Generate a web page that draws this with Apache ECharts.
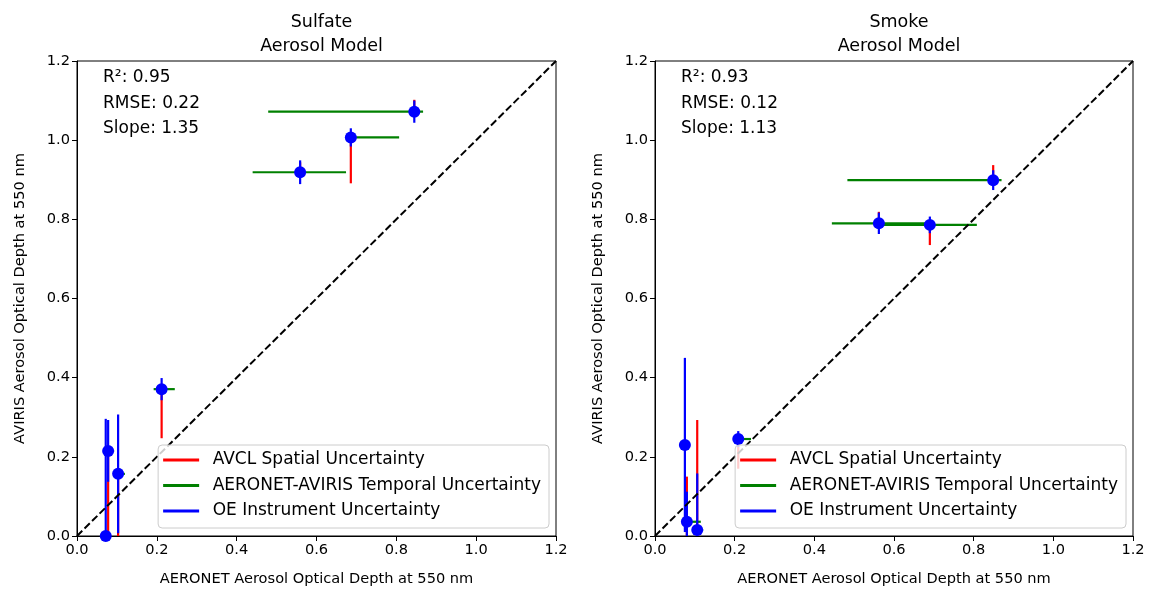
<!DOCTYPE html>
<html>
<head>
<meta charset="utf-8">
<script src="https://cdn.jsdelivr.net/npm/echarts@6/dist/echarts.min.js"></script>
<style>
  html, body { margin: 0; padding: 0; background: #fff; }
  #chart { width: 1151px; height: 592px; }
</style>
</head>
<body>
<div id="chart"></div>
<script>
// Sulfate model (left panel)
const sulfateX = [0.072, 0.078, 0.103, 0.212, 0.559, 0.686, 0.845];
const sulfateY = [0.0, 0.215, 0.157, 0.371, 0.919, 1.007, 1.072];
// [minus, plus] error lengths
const sulfateRed = [[0, 0], [0.215, 0], [0.157, 0], [0.124, 0], [0, 0.025], [0.116, 0], [0, 0.03]];
const sulfateGreen = [[0, 0], [0.005, 0.015], [0, 0.017], [0.02, 0.033], [0.119, 0.115], [0, 0.121], [0.366, 0.022]];
const sulfateBlue = [[0.296, 0.296], [0.078, 0.078], [0.15, 0.15], [0.028, 0.028], [0.03, 0.03], [0.023, 0.023], [0.028, 0.028]];
const sulfateStats = ['0.95', '0.22', '1.35'];

// Smoke model (right panel)
const smokeX = [0.075, 0.08, 0.106, 0.209, 0.562, 0.69, 0.849];
const smokeY = [0.23, 0.036, 0.015, 0.245, 0.79, 0.786, 0.899];
const smokeRed = [[0, 0], [0.036, 0.114], [0.015, 0.278], [0.075, 0], [0, 0.029], [0.051, 0], [0, 0.038]];
const smokeGreen = [[0, 0], [0, 0.035], [0, 0.015], [0, 0.032], [0.118, 0.12], [0.12, 0.118], [0.366, 0.021]];
const smokeBlue = [[0.22, 0.22], [0.076, 0.076], [0.143, 0.143], [0.02, 0.02], [0.027, 0.027], [0.021, 0.021], [0.025, 0.025]];
const smokeStats = ['0.93', '0.12', '1.13'];

const legendNames = ['AVCL Spatial Uncertainty', 'AERONET-AVIRIS Temporal Uncertainty', 'OE Instrument Uncertainty'];
const legendColors = ['#ff0000', '#008000', '#0000ff'];
const panelTitles = ['Sulfate\nAerosol Model', 'Smoke\nAerosol Model'];
const xName = 'AERONET Aerosol Optical Depth at 550 nm';
const yName = 'AVIRIS Aerosol Optical Depth at 550 nm';

const FONT = 'DejaVu Sans';
const chart = echarts.init(document.getElementById('chart'));

function errSeries(name, color, idx, xs, ys, errs, dir) {
  return {
    type: 'custom',
    name: name,
    xAxisIndex: idx,
    yAxisIndex: idx,
    clip: true,
    itemStyle: { color: color },
    encode: { x: 0, y: 1 },
    data: xs.map((x, i) => [x, ys[i], errs[i][0], errs[i][1]]),
    renderItem: function (params, api) {
      const x = api.value(0), y = api.value(1), lo = api.value(2), hi = api.value(3);
      if (lo === 0 && hi === 0) return null;
      const p1 = dir === 'y' ? api.coord([x, y - lo]) : api.coord([x - lo, y]);
      const p2 = dir === 'y' ? api.coord([x, y + hi]) : api.coord([x + hi, y]);
      return {
        type: 'line',
        shape: { x1: p1[0], y1: p1[1], x2: p2[0], y2: p2[1] },
        style: { stroke: color, lineWidth: 2.2 }
      };
    }
  };
}

function axisCommon(idx, isX) {
  return {
    type: 'value',
    gridIndex: idx,
    min: 0,
    max: 1.2,
    interval: 0.2,
    name: isX ? xName : yName,
    nameLocation: 'middle',
    nameGap: isX ? 36 : 49,
    nameTextStyle: { fontFamily: FONT, fontSize: 14.6, color: '#000' },
    axisLine: { show: true, onZero: false, lineStyle: { color: '#000', width: 1 } },
    axisTick: { show: true, inside: false, length: 5, lineStyle: { color: '#000' } },
    axisLabel: {
      fontFamily: FONT, fontSize: 14.6, color: '#000', margin: 7,
      formatter: v => v.toFixed(1)
    },
    splitLine: { show: false }
  };
}

const grids = [
  { left: 77, top: 61, width: 479, height: 475 },
  { left: 655, top: 61, width: 478, height: 475 }
];

const panels = [
  { x: sulfateX, y: sulfateY, red: sulfateRed, green: sulfateGreen, blue: sulfateBlue, stats: sulfateStats },
  { x: smokeX, y: smokeY, red: smokeRed, green: smokeGreen, blue: smokeBlue, stats: smokeStats }
];

const series = [];
panels.forEach((p, i) => {
  series.push(errSeries(legendNames[0], legendColors[0], i, p.x, p.y, p.red, 'y'));
  series.push(errSeries(legendNames[1], legendColors[1], i, p.x, p.y, p.green, 'x'));
  series.push(errSeries(legendNames[2], legendColors[2], i, p.x, p.y, p.blue, 'y'));
  series.push({
    type: 'scatter',
    xAxisIndex: i,
    yAxisIndex: i,
    symbol: 'circle',
    symbolSize: 12,
    itemStyle: { color: '#0000ff', opacity: 1 },
    data: p.x.map((x, k) => [x, p.y[k]])
  });
  series.push({
    type: 'line',
    xAxisIndex: i,
    yAxisIndex: i,
    symbol: 'none',
    lineStyle: { color: '#000', width: 2, type: [7.4, 3.2] },
    data: [[0, 0], [1.2, 1.2]]
  });
});

// icon with trailing blank space so text sits further from the line
const legendIcon = 'path://M0,0L36,0L36,3L0,3Z M44,0L44,3';

function makeLegend(rightPx) {
  return {
    orient: 'vertical',
    right: rightPx,
    bottom: 64,
    icon: legendIcon,
    itemWidth: 45,
    itemHeight: 3,
    itemGap: 5.5,
    padding: [5, 8, 7, 5],
    backgroundColor: 'rgba(255,255,255,0.8)',
    borderColor: '#cccccc',
    borderWidth: 1,
    borderRadius: 4,
    textStyle: { fontFamily: FONT, fontSize: 17, color: '#000', lineHeight: 20 },
    data: legendNames.map((n, k) => ({ name: n, itemStyle: { color: legendColors[k] } }))
  };
}

const graphics = panels.map((p, i) => ({
  type: 'text',
  left: grids[i].left + 26,
  top: 65,
  style: {
    text: 'R²: ' + p.stats[0] + '\nRMSE: ' + p.stats[1] + '\nSlope: ' + p.stats[2],
    font: '17px "DejaVu Sans"',
    lineHeight: 25.5,
    fill: '#000'
  }
}));

chart.setOption({
  animation: false,
  backgroundColor: '#fff',
  title: panelTitles.map((t, i) => ({
    text: t,
    left: grids[i].left + grids[i].width / 2,
    top: 5,
    textAlign: 'center',
    textStyle: { fontFamily: FONT, fontSize: 17.5, fontWeight: 'normal', color: '#000', lineHeight: 24 }
  })),
  grid: grids.map(g => Object.assign({ show: true, borderColor: '#000', borderWidth: 1, backgroundColor: 'transparent' }, g)),
  xAxis: [axisCommon(0, true), axisCommon(1, true)],
  yAxis: [axisCommon(0, false), axisCommon(1, false)],
  legend: [makeLegend(1151 - 549), makeLegend(1151 - 1126)],
  graphic: graphics,
  series: series
});
</script>
</body>
</html>
